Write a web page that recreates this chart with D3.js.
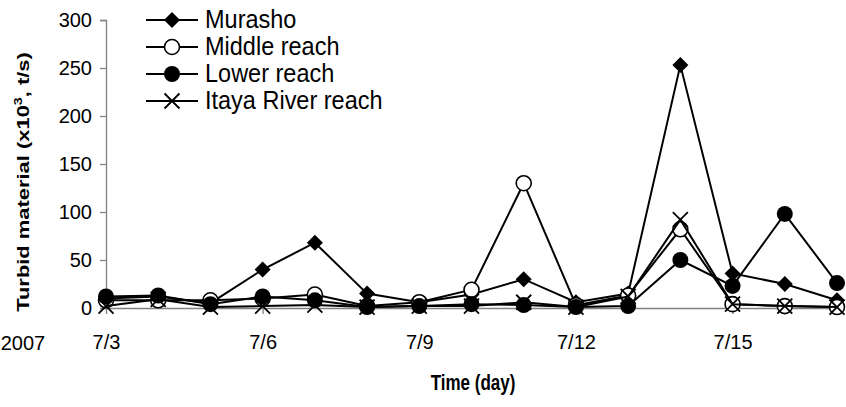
<!DOCTYPE html>
<html><head><meta charset="utf-8">
<script src="https://cdn.jsdelivr.net/npm/d3@7"></script>
<style>body{margin:0;background:#fff}svg{display:block;font-family:"Liberation Sans",Arial,sans-serif}</style>
</head><body><svg id="c" width="846" height="407"></svg>
<script>
const days = ["7/3","7/4","7/5","7/6","7/7","7/8","7/9","7/10","7/11","7/12","7/13","7/14","7/15","7/16","7/17"];
const tickDays = ["7/3","7/6","7/9","7/12","7/15"];
const yTicks = [0,50,100,150,200,250,300];
const murasho = [10,12,5,40,68,15,6,14,30,6,15,253,36,25,8];
const middle  = [8,8,8,10,14,2,6,19,130,3,13,82,4,2,1];
const lower   = [12,13,4,12,8,1,2,4,3,1,2,50,23,98,26];
const itaya   = [2,9,1,2,3,1,2,2,6,1,12,92,4,2,1];
const seriesNames = ["Murasho","Middle reach","Lower reach","Itaya River reach"];
const seriesData = [murasho, middle, lower, itaya];
const seriesMarks = ["diamond","open","filled","cross"];

const svg = d3.select("#c");
const x = d3.scaleLinear().domain([0, days.length-1]).range([106, 837]);
const y = d3.scaleLinear().domain([0, 300]).range([308, 20]);
const axisCol = "#808080";

// y axis
const ya = svg.append("g").attr("transform","translate(106,0)")
  .call(d3.axisLeft(y).tickValues(yTicks).tickSize(6).tickPadding(8));
ya.selectAll("path,line").attr("stroke",axisCol).attr("stroke-width",1.3);
ya.selectAll("text").attr("font-size",20).attr("fill","#000").attr("font-family","Liberation Sans, Arial, sans-serif");

// x axis
const xa = svg.append("g").attr("transform","translate(0,308)")
  .call(d3.axisBottom(x).tickValues(tickDays.map(d=>days.indexOf(d))).tickFormat(i=>days[i]).tickSize(6).tickSizeOuter(0).tickPadding(21));
xa.selectAll("path,line").attr("stroke",axisCol).attr("stroke-width",1.3);
xa.selectAll("text").attr("font-size",20).attr("fill","#000").attr("font-family","Liberation Sans, Arial, sans-serif");

svg.append("text").attr("x",23).attr("y",350).attr("text-anchor","middle").attr("font-size",20).text("2007");

// axis titles (source image is stretched vertically)
svg.append("text").attr("transform","translate(29,182) rotate(-90) scale(1.29,1)").attr("text-anchor","middle")
  .attr("font-size",17).attr("font-weight","bold")
  .html('Turbid material (x10<tspan dy="-7" font-size="11">3</tspan><tspan dy="7">, t/s)</tspan>');
svg.append("text").attr("transform","translate(473,390) scale(1,1.29)").attr("text-anchor","middle")
  .attr("font-size",17).attr("font-weight","bold").text("Time (day)");

function drawMarker(g, type, cx, cy){
  if(type==="diamond"){
    g.append("path").attr("d",`M${cx},${cy-8}L${cx+8},${cy}L${cx},${cy+8}L${cx-8},${cy}Z`).attr("fill","#000");
  } else if(type==="open"){
    g.append("circle").attr("cx",cx).attr("cy",cy).attr("r",7.5).attr("fill","#fff").attr("stroke","#000").attr("stroke-width",1.6);
  } else if(type==="filled"){
    g.append("circle").attr("cx",cx).attr("cy",cy).attr("r",8).attr("fill","#000");
  } else {
    g.append("path").attr("d",`M${cx-7.5},${cy-7.5}L${cx+7.5},${cy+7.5}M${cx-7.5},${cy+7.5}L${cx+7.5},${cy-7.5}`).attr("stroke","#000").attr("stroke-width",1.8);
  }
}

const line = d3.line().x((d,i)=>x(i)).y(d=>y(d));
seriesData.forEach((s,k)=>{
  const g = svg.append("g");
  g.append("path").attr("d",line(s)).attr("fill","none").attr("stroke","#000").attr("stroke-width",2);
  s.forEach((v,i)=>drawMarker(g, seriesMarks[k], x(i), y(v)));
});

// legend
const legY = [20,47,74,101];
seriesNames.forEach((n,k)=>{
  const g = svg.append("g");
  g.append("line").attr("x1",146).attr("x2",198).attr("y1",legY[k]).attr("y2",legY[k]).attr("stroke","#000").attr("stroke-width",2);
  drawMarker(g, seriesMarks[k], 172, legY[k]);
  g.append("text").attr("transform",`translate(205,${legY[k]+8}) scale(1,1.12)`).attr("font-size",23.5).text(n);
});
</script></body></html>
